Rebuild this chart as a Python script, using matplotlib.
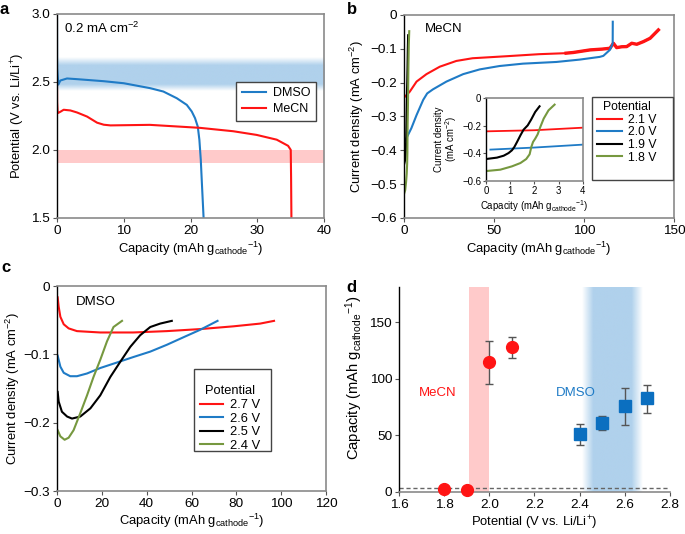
import numpy as np
import matplotlib
matplotlib.use("Agg")
import matplotlib.pyplot as plt
from matplotlib.patches import Rectangle

plt.rcParams['font.family'] = ['Liberation Sans', 'DejaVu Sans']
plt.rcParams['font.size'] = 9.5
plt.rcParams['mathtext.fontset'] = 'custom'
plt.rcParams['mathtext.rm'] = 'Liberation Sans'
plt.rcParams['mathtext.it'] = 'Liberation Sans'

RED = '#ff1414'
BLUE = '#1f7bc6'
BLACK = '#000000'
GREEN = '#76983f'
SQ_BLUE = '#0b6fc0'
SPINE_GRAY = '#8a8a8a'
TICK_FS = 9.7
LAB_FS = 9.4

# ---------------- Panel a data ----------------
a_dmso_x = [0, 0.02, 0.2, 0.5, 1.5, 3, 7, 10, 13.93, 15.93, 17.93, 19.43, 20.18, 20.67, 21.08, 21.32, 21.53, 21.72, 21.95]
a_dmso_y = [3.0, 2.6, 2.48, 2.51, 2.525, 2.52, 2.505, 2.49, 2.454, 2.429, 2.38, 2.331, 2.282, 2.233, 2.171, 2.074, 1.926, 1.73, 1.5]
a_mecn_x = [0, 0.02, 0.1, 0.5, 1, 2, 3, 4.5, 6, 7, 8, 13.9, 18, 21.4, 26.4, 29.9, 32.9, 34.6, 35.0, 35.05, 35.1]
a_mecn_y = [2.5, 2.35, 2.27, 2.28, 2.295, 2.29, 2.275, 2.245, 2.20, 2.185, 2.18, 2.184, 2.172, 2.162, 2.137, 2.11, 2.075, 2.03, 2.0, 1.8, 1.5]
a_blue_band = (2.43, 2.48, 2.62, 2.68)   # fade-in, core start, core end, fade-out
a_pink_band = (1.9, 2.0)

# ---------------- Panel b data ----------------
b_21_x = [0, 3.1, 6.9, 12.4, 19.8, 29, 38, 57, 75, 90, 94, 103.3, 110, 114.4, 116.3, 118.1, 121, 123.7, 126.5, 129.3, 133, 136.7, 141.3]
b_21_y = [-0.244, -0.227, -0.197, -0.175, -0.153, -0.136, -0.128, -0.122, -0.116, -0.113, -0.111, -0.1034, -0.101, -0.0985, -0.0837, -0.0966, -0.094, -0.0936, -0.0837, -0.0867, -0.0788, -0.069, -0.0443]
b_20_x = [0, 1.3, 4, 6.9, 10.6, 12.8, 16, 23.5, 32.8, 42, 53, 66, 84.6, 97.6, 108.7, 110.7, 114.4, 115.9, 115.95]
b_20_y = [-0.374, -0.364, -0.335, -0.296, -0.251, -0.232, -0.22, -0.197, -0.175, -0.161, -0.151, -0.144, -0.139, -0.132, -0.124, -0.121, -0.103, -0.084, -0.02]
b_19_x = [0, 0.45, 0.73, 0.93, 1.07, 1.17, 1.28, 1.42, 1.55, 1.72, 1.86, 2.03, 2.21]
b_19_y = [-0.441, -0.431, -0.417, -0.398, -0.378, -0.354, -0.318, -0.27, -0.229, -0.198, -0.157, -0.101, -0.06]
b_18_x = [0, 0.59, 1.07, 1.42, 1.66, 1.8, 1.87, 1.94, 2.03, 2.13, 2.24, 2.38, 2.58, 2.83]
b_18_y = [-0.528, -0.518, -0.494, -0.47, -0.441, -0.407, -0.354, -0.318, -0.294, -0.263, -0.21, -0.149, -0.089, -0.048]
b_inset_21_x = [0, 2, 4]
b_inset_21_y = [-0.241, -0.233, -0.2145]
b_inset_20_x = [0.18, 2, 4]
b_inset_20_y = [-0.373, -0.358, -0.337]
b_noisy_from = 88

# ---------------- Panel c data ----------------
c_27_x = [0.3, 0.74, 1.5, 3, 5.2, 8.9, 19.3, 34, 49, 64, 78.7, 90.6, 96.8]
c_27_y = [-0.0166, -0.030, -0.045, -0.056, -0.062, -0.066, -0.068, -0.068, -0.066, -0.063, -0.059, -0.055, -0.051]
c_26_x = [0.3, 1.5, 3, 5.9, 8.9, 13.4, 19.3, 26.7, 34, 41.6, 49, 56.4, 63.9, 71.6]
c_26_y = [-0.102, -0.118, -0.127, -0.132, -0.132, -0.128, -0.12, -0.112, -0.104, -0.096, -0.086, -0.075, -0.064, -0.051]
c_25_x = [0.3, 0.74, 2.2, 4.5, 6.7, 10.4, 14.9, 19.3, 23.8, 28.2, 32.7, 37.1, 41.6, 46, 51.2]
c_25_y = [-0.155, -0.169, -0.184, -0.191, -0.194, -0.191, -0.179, -0.16, -0.133, -0.111, -0.089, -0.072, -0.060, -0.055, -0.051]
c_24_x = [0.3, 1.5, 3.4, 5.2, 7.4, 10.4, 13.4, 16.3, 19.3, 22.3, 25.2, 29]
c_24_y = [-0.211, -0.22, -0.225, -0.222, -0.211, -0.186, -0.16, -0.133, -0.108, -0.081, -0.06, -0.051]

# ---------------- Panel d data ----------------
d_mecn_v = [1.8, 1.9, 2.0, 2.1]
d_mecn_cap = [2.9, 2.0, 114.5, 128.0]
d_mecn_lo = [2.9, 2.0, 95.5, 118.5]
d_mecn_hi = [2.9, 2.0, 133.2, 136.8]
d_dmso_v = [2.4, 2.5, 2.6, 2.7]
d_dmso_cap = [50.9, 61.2, 75.6, 82.6]
d_dmso_lo = [41.8, 55.0, 59.4, 70.0]
d_dmso_hi = [59.7, 67.0, 92.0, 94.1]
d_dashed = 3.8
d_pink_band = (1.91, 2.0)
d_blue_band = (2.41, 2.46, 2.63, 2.68)

CAP_LABEL = r'Capacity (mAh g$_{\mathrm{cathode}}$$^{-1}$)'


def style_axes(ax, box=True):
    for side in ['top', 'right', 'bottom']:
        ax.spines[side].set_color(SPINE_GRAY)
        ax.spines[side].set_linewidth(1.2)
    ax.spines['left'].set_color('black')
    ax.spines['left'].set_linewidth(1.0)
    if not box:
        ax.spines['top'].set_visible(False)
        ax.spines['right'].set_visible(False)
    ax.tick_params(direction='out', length=3, width=0.8, color='#555555', labelsize=TICK_FS, pad=2)


def gradient_band(ax, lims, color, vertical, span):
    f0, c0, c1, f1 = lims
    n = 200
    pos = np.linspace(f0, f1, n)
    alpha = np.ones(n)
    alpha[pos < c0] = (pos[pos < c0] - f0) / (c0 - f0)
    alpha[pos > c1] = (f1 - pos[pos > c1]) / (f1 - c1)
    rgb = matplotlib.colors.to_rgb(color)
    if vertical:
        img = np.zeros((1, n, 4))
        img[0, :, :3] = rgb
        img[0, :, 3] = alpha
        ax.imshow(img, extent=(f0, f1, span[0], span[1]), aspect='auto', origin='lower', zorder=0, interpolation='bilinear')
    else:
        img = np.zeros((n, 1, 4))
        img[:, 0, :3] = rgb
        img[:, 0, 3] = alpha
        ax.imshow(img, extent=(span[0], span[1], f0, f1), aspect='auto', origin='lower', zorder=0, interpolation='bilinear')


def box_legend(ax, **kw):
    leg = ax.legend(fancybox=False, edgecolor='#444444', framealpha=1, borderaxespad=0, **kw)
    leg.get_frame().set_linewidth(1.0)
    return leg


def framed_legend(ax, frame, anchor, **kw):
    # frame: (x0, y0, x1, y1) in axes fraction; legend content placed at anchor (upper left)
    x0, y0, x1, y1 = frame
    ax.add_patch(Rectangle((x0, y0), x1 - x0, y1 - y0, transform=ax.transAxes, facecolor='white',
                           edgecolor='#444444', lw=1.0, zorder=4.5, clip_on=False))
    leg = ax.legend(loc='upper left', bbox_to_anchor=anchor, frameon=False, borderpad=0,
                    borderaxespad=0, **kw)
    leg.set_zorder(5)
    return leg


fig = plt.figure(figsize=(6.85, 5.34), dpi=100)

# ---------------- Panel a ----------------
axa = fig.add_axes([0.0832, 0.592, 0.390, 0.382])
gradient_band(axa, a_blue_band, '#b0d1ec', vertical=False, span=(0, 40))
axa.axhspan(a_pink_band[0], a_pink_band[1], color='#ffcaca', lw=0, zorder=0)
axa.plot(a_dmso_x, a_dmso_y, color=BLUE, lw=1.5, label='DMSO')
axa.plot(a_mecn_x, a_mecn_y, color=RED, lw=1.5, label='MeCN')
axa.set_xlim(0, 40)
axa.set_ylim(1.5, 3.0)
axa.set_xticks([0, 10, 20, 30, 40])
axa.set_yticks([1.5, 2.0, 2.5, 3.0])
axa.set_yticklabels(['1.5', '2.0', '2.5', '3.0'])
axa.set_xlabel(CAP_LABEL, labelpad=2, fontsize=LAB_FS)
axa.set_ylabel(r'Potential (V vs. Li/Li$^{+}$)', labelpad=3, fontsize=LAB_FS)
axa.text(0.025, 0.93, r'0.2 mA cm$^{-2}$', transform=axa.transAxes, ha='left', va='center', fontsize=9.5)
style_axes(axa)
box_legend(axa, loc='upper right', bbox_to_anchor=(0.97, 0.667), handlelength=1.9, fontsize=9,
           borderpad=0.45, labelspacing=0.3, handletextpad=0.6)

# ---------------- Panel b ----------------
axb = fig.add_axes([0.590, 0.592, 0.394, 0.380])
axb.plot(b_21_x, b_21_y, color=RED, lw=1.5, label='2.1 V')
nz = [i for i, v in enumerate(b_21_x) if v >= b_noisy_from]
axb.plot([b_21_x[i] for i in nz], [b_21_y[i] for i in nz], color=RED, lw=2.4)
axb.plot(b_20_x, b_20_y, color=BLUE, lw=1.5, label='2.0 V')
axb.plot(b_19_x, b_19_y, color=BLACK, lw=1.5, label='1.9 V')
axb.plot(b_18_x, b_18_y, color=GREEN, lw=1.5, label='1.8 V')
axb.set_xlim(0, 150)
axb.set_ylim(-0.6, 0)
axb.set_xticks([0, 50, 100, 150])
axb.set_yticks([-0.6, -0.5, -0.4, -0.3, -0.2, -0.1, 0])
axb.set_yticklabels(['\u22120.6', '\u22120.5', '\u22120.4', '\u22120.3', '\u22120.2', '\u22120.1', '0'])
axb.set_xlabel(CAP_LABEL, labelpad=2, fontsize=LAB_FS)
axb.set_ylabel(r'Current density (mA cm$^{-2}$)', labelpad=3, fontsize=LAB_FS)
axb.text(0.078, 0.93, 'MeCN', transform=axb.transAxes, ha='left', va='center', fontsize=9.5)
style_axes(axb)
framed_legend(axb, (0.696, 0.187, 0.997, 0.596), (0.716, 0.575), handlelength=2.0, fontsize=8.8,
              title='Potential', title_fontsize=8.8, labelspacing=0.05, handletextpad=0.5)

# inset
axi = fig.add_axes([0.7095, 0.661, 0.1415, 0.1555])
axi.plot(b_inset_21_x, b_inset_21_y, color=RED, lw=1.3)
axi.plot(b_inset_20_x, b_inset_20_y, color=BLUE, lw=1.3)
axi.plot(b_19_x, b_19_y, color=BLACK, lw=1.5)
axi.plot(b_18_x, b_18_y, color=GREEN, lw=1.5)
axi.set_xlim(0, 4)
axi.set_ylim(-0.6, 0)
axi.set_xticks([0, 1, 2, 3, 4])
axi.set_yticks([-0.6, -0.4, -0.2, 0])
axi.set_yticklabels(['\u22120.6', '\u22120.4', '\u22120.2', '0'])
style_axes(axi)
axi.tick_params(labelsize=6.9, length=2, pad=1.5)
axi.set_xlabel(CAP_LABEL, fontsize=6.9, labelpad=2)
axi.set_ylabel('Current density\n' + r'(mA cm$^{-2}$)', fontsize=6.9, labelpad=2, linespacing=1.0)

# ---------------- Panel c ----------------
axc = fig.add_axes([0.0832, 0.0805, 0.3928, 0.3839])
axc.plot(c_27_x, c_27_y, color=RED, lw=1.5, label='2.7 V')
axc.plot(c_26_x, c_26_y, color=BLUE, lw=1.5, label='2.6 V')
axc.plot(c_25_x, c_25_y, color=BLACK, lw=1.5, label='2.5 V')
axc.plot(c_24_x, c_24_y, color=GREEN, lw=1.5, label='2.4 V')
axc.set_xlim(0, 120)
axc.set_ylim(-0.3, 0)
axc.set_xticks([0, 20, 40, 60, 80, 100, 120])
axc.set_yticks([-0.3, -0.2, -0.1, 0])
axc.set_yticklabels(['\u22120.3', '\u22120.2', '\u22120.1', '0'])
axc.set_xlabel(CAP_LABEL, labelpad=1, fontsize=LAB_FS)
axc.set_ylabel(r'Current density (mA cm$^{-2}$)', labelpad=1, fontsize=LAB_FS)
axc.text(0.07, 0.92, 'DMSO', transform=axc.transAxes, ha='left', va='center', fontsize=9.5)
style_axes(axc)
framed_legend(axc, (0.509, 0.195, 0.796, 0.595), (0.532, 0.515), handlelength=1.8, fontsize=9.3,
              title='Potential', title_fontsize=9.3, labelspacing=0.12, handletextpad=0.5)

# ---------------- Panel d ----------------
axd = fig.add_axes([0.5825, 0.0787, 0.3955, 0.3838])
axd.axvspan(d_pink_band[0], d_pink_band[1], color='#ffcaca', lw=0, zorder=0)
gradient_band(axd, d_blue_band, '#b0d1ec', vertical=True, span=(0, 181))
axd.axhline(d_dashed, color='#666666', ls=(0, (3, 2)), lw=1.0, zorder=1)
m_err = [np.array(d_mecn_cap) - np.array(d_mecn_lo), np.array(d_mecn_hi) - np.array(d_mecn_cap)]
s_err = [np.array(d_dmso_cap) - np.array(d_dmso_lo), np.array(d_dmso_hi) - np.array(d_dmso_cap)]
axd.errorbar(d_mecn_v, d_mecn_cap, yerr=m_err, fmt='o', color=RED, ms=8.5, ecolor='#555555',
             elinewidth=1.0, capsize=3, capthick=1.0, zorder=3, clip_on=False)
axd.errorbar(d_dmso_v, d_dmso_cap, yerr=s_err, fmt='s', color=SQ_BLUE, ms=8.5, ecolor='#555555',
             elinewidth=1.0, capsize=3, capthick=1.0, zorder=3)
axd.set_xlim(1.6, 2.8)
axd.set_ylim(0, 181)
axd.set_xticks([1.6, 1.8, 2.0, 2.2, 2.4, 2.6, 2.8])
axd.set_xticklabels(['1.6', '1.8', '2.0', '2.2', '2.4', '2.6', '2.8'])
axd.set_yticks([0, 50, 100, 150])
axd.set_xlabel(r'Potential (V vs. Li/Li$^{+}$)', labelpad=2, fontsize=LAB_FS)
axd.set_ylabel(CAP_LABEL, fontsize=10.6)
axd.yaxis.set_label_coords(-0.125, 0.56)
axd.text(1.773, 87.4, 'MeCN', color=RED, ha='center', va='center', fontsize=9.5)
axd.text(2.384, 87.4, 'DMSO', color=BLUE, ha='center', va='center', fontsize=9.5)
style_axes(axd, box=False)

# panel letters
for lab, x, y in [('a', 0.0, 0.983), ('b', 0.506, 0.983), ('c', 0.002, 0.5), ('d', 0.506, 0.4625)]:
    fig.text(x, y, lab, fontsize=12, fontweight='bold', ha='left', va='center')

fig.savefig('out.png', dpi=100)
